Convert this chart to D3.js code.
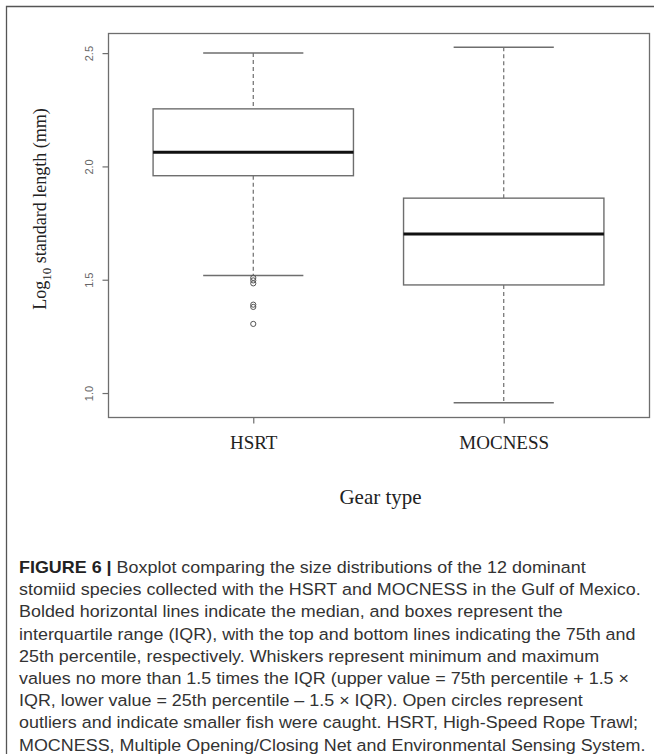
<!doctype html>
<html lang="en">
<head>
<meta charset="UTF-8">
<script src="https://d3js.org/d3.v7.min.js"></script>
<style>
  body { margin: 0; background: #fff; }
  svg { display: block; }
</style>
</head>
<body>
<div id="chart"></div>
<script>
    // gear types and their boxplot stats (log10 mm)
    var gears = ["HSRT", "MOCNESS"];
    var whiskerLow = [1.519, 0.957];
    var q1 = [1.959, 1.477];
    var median = [2.062, 1.702];
    var q3 = [2.254, 1.860];
    var whiskerHigh = [2.500, 2.526];
    var outliers = [[1.508, 1.497, 1.484, 1.390, 1.380, 1.305], []];
    var yTicks = [1.0, 1.5, 2.0, 2.5];

    var captionLines = [
        "Boxplot comparing the size distributions of the 12 dominant",
        "stomiid species collected with the HSRT and MOCNESS in the Gulf of Mexico.",
        "Bolded horizontal lines indicate the median, and boxes represent the",
        "interquartile range (IQR), with the top and bottom lines indicating the 75th and",
        "25th percentile, respectively. Whiskers represent minimum and maximum",
        "values no more than 1.5 times the IQR (upper value = 75th percentile + 1.5 \u00d7",
        "IQR, lower value = 25th percentile \u2013 1.5 \u00d7 IQR). Open circles represent",
        "outliers and indicate smaller fish were caught. HSRT, High-Speed Rope Trawl;",
        "MOCNESS, Multiple Opening/Closing Net and Environmental Sensing System."
    ];

    var W = 654, H = 754;
    var frame = {left: 108, right: 649, top: 33, bottom: 417};

    var svg = d3.select("#chart").append("svg")
        .attr("width", W)
        .attr("height", H);

    // outer panel border (left + top only, like the crop)
    svg.append("path")
        .attr("d", "M6.5," + H + "V6.5H" + W)
        .attr("fill", "none")
        .attr("stroke", "#555")
        .attr("stroke-width", 1.3);

    // R style scales: x from 0.5..n+0.5, 4% padding each side
    var n = gears.length;
    var xPad = n * 0.04;
    var x = d3.scaleLinear()
        .domain([0.5 - xPad, n + 0.5 + xPad])
        .range([frame.left, frame.right]);

    var allVals = whiskerLow.concat(whiskerHigh, d3.merge(outliers));
    var yMin = d3.min(allVals), yMax = d3.max(allVals);
    var yPad = (yMax - yMin) * 0.04;
    var y = d3.scaleLinear()
        .domain([yMin - yPad, yMax + yPad])
        .range([frame.bottom, frame.top]);

    var ink = "#6e6e6e";

    // plot frame
    svg.append("rect")
        .attr("x", frame.left + 0.5)
        .attr("y", frame.top + 0.5)
        .attr("width", frame.right - frame.left)
        .attr("height", frame.bottom - frame.top)
        .attr("fill", "none")
        .attr("stroke", ink)
        .attr("stroke-width", 1.3);

    // y axis
    var yAxis = svg.append("g")
        .attr("transform", "translate(" + (frame.left + 0.5) + ",0)")
        .call(d3.axisLeft(y).tickValues(yTicks).tickFormat(d3.format(".1f")).tickSize(6).tickPadding(0));
    yAxis.select(".domain").remove();
    yAxis.selectAll(".tick line").attr("stroke", ink).attr("stroke-width", 1.2);
    yAxis.selectAll(".tick text")
        .attr("x", 0).attr("dy", null)
        .attr("transform", "translate(-20,0) rotate(-90)")
        .attr("text-anchor", "middle")
        .attr("dominant-baseline", "central")
        .attr("fill", "#666")
        .style("font-family", "'Liberation Sans', Arial, sans-serif")
        .style("font-size", "11px");

    // x axis
    var xAxis = svg.append("g")
        .attr("transform", "translate(0," + (frame.bottom + 0.5) + ")")
        .call(d3.axisBottom(x).tickValues(d3.range(1, n + 1)).tickFormat(function (d) { return gears[d - 1]; }).tickSize(6).tickPadding(12));
    xAxis.select(".domain").remove();
    xAxis.selectAll(".tick line").attr("stroke", ink).attr("stroke-width", 1.2);
    xAxis.selectAll(".tick text")
        .attr("fill", "#222")
        .style("font-family", "'Liberation Serif', 'Times New Roman', serif")
        .style("font-size", "19px");

    // boxes
    var boxW = 0.8, capW = 0.4;
    var g = svg.append("g").selectAll("g")
        .data(gears)
        .enter().append("g");

    g.append("line")
        .attr("x1", function (d, i) { return x(i + 1); })
        .attr("x2", function (d, i) { return x(i + 1); })
        .attr("y1", function (d, i) { return y(whiskerHigh[i]); })
        .attr("y2", function (d, i) { return y(q3[i]); })
        .attr("stroke", ink).attr("stroke-width", 1.2).attr("stroke-dasharray", "4,3");
    g.append("line")
        .attr("x1", function (d, i) { return x(i + 1); })
        .attr("x2", function (d, i) { return x(i + 1); })
        .attr("y1", function (d, i) { return y(q1[i]); })
        .attr("y2", function (d, i) { return y(whiskerLow[i]); })
        .attr("stroke", ink).attr("stroke-width", 1.2).attr("stroke-dasharray", "4,3");

    // whisker caps
    [whiskerHigh, whiskerLow].forEach(function (arr) {
        g.append("line")
            .attr("x1", function (d, i) { return x(i + 1 - capW / 2); })
            .attr("x2", function (d, i) { return x(i + 1 + capW / 2); })
            .attr("y1", function (d, i) { return y(arr[i]); })
            .attr("y2", function (d, i) { return y(arr[i]); })
            .attr("stroke", ink).attr("stroke-width", 1.5);
    });

    g.append("rect")
        .attr("x", function (d, i) { return x(i + 1 - boxW / 2); })
        .attr("width", function (d, i) { return x(i + 1 + boxW / 2) - x(i + 1 - boxW / 2); })
        .attr("y", function (d, i) { return y(q3[i]); })
        .attr("height", function (d, i) { return y(q1[i]) - y(q3[i]); })
        .attr("fill", "#fff")
        .attr("stroke", ink).attr("stroke-width", 1.4);

    g.append("line")
        .attr("x1", function (d, i) { return x(i + 1 - boxW / 2); })
        .attr("x2", function (d, i) { return x(i + 1 + boxW / 2); })
        .attr("y1", function (d, i) { return y(median[i]); })
        .attr("y2", function (d, i) { return y(median[i]); })
        .attr("stroke", "#111").attr("stroke-width", 3);

    // outliers
    g.selectAll("circle")
        .data(function (d, i) { return outliers[i].map(function (v) { return {i: i, v: v}; }); })
        .enter().append("circle")
        .attr("cx", function (d) { return x(d.i + 1); })
        .attr("cy", function (d) { return y(d.v); })
        .attr("r", 2.6)
        .attr("fill", "none")
        .attr("stroke", "#555")
        .attr("stroke-width", 1);

    // axis titles
    svg.append("text")
        .attr("x", (frame.left + frame.right) / 2 + 2)
        .attr("y", 504)
        .attr("text-anchor", "middle")
        .attr("fill", "#222")
        .style("font-family", "'Liberation Serif', 'Times New Roman', serif")
        .style("font-size", "21px")
        .text("Gear type");

    var yl = svg.append("text")
        .attr("transform", "translate(46,209) rotate(-90)")
        .attr("text-anchor", "middle")
        .attr("fill", "#222")
        .style("font-family", "'Liberation Serif', 'Times New Roman', serif")
        .style("font-size", "18px");
    yl.append("tspan").text("Log");
    yl.append("tspan").attr("dy", 5).style("font-size", "13px").text("10");
    yl.append("tspan").attr("dy", -5).text(" standard length (mm)");

    // caption, stretched sideways so line 2 spans the panel like the original
    var cap = svg.append("g")
        .style("font-family", "'Liberation Sans', Arial, sans-serif")
        .style("font-size", "16.5px")
        .attr("fill", "#333");
    captionLines.forEach(function (line, i) {
        var t = cap.append("text")
            .attr("x", 0)
            .attr("y", 573 + i * 22.2);
        if (i === 0) {
            t.append("tspan").attr("font-weight", "bold").attr("fill", "#222").text("FIGURE 6 | ");
        }
        t.append("tspan").text(line);
    });
    var w2 = cap.selectAll("text").nodes()[1].getComputedTextLength();
    var sx = 622 / w2;
    cap.attr("transform", "translate(19,0) scale(" + sx + ",1)");
</script>
</body>
</html>
